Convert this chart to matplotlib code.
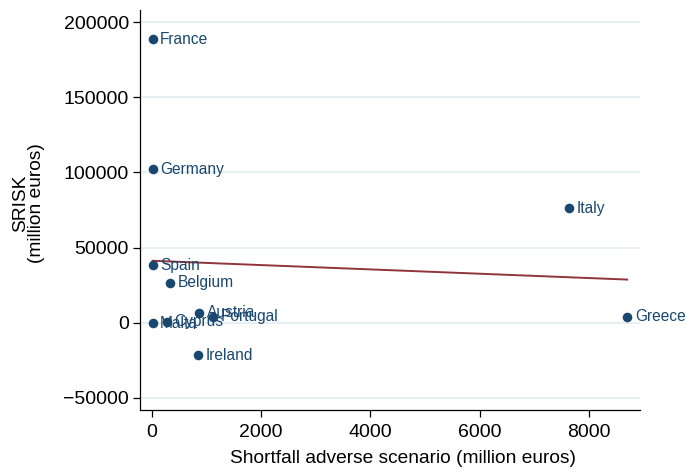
import numpy as np
import matplotlib
matplotlib.use("Agg")
import matplotlib.pyplot as plt

plt.rcParams["font.family"] = ["Liberation Sans", "DejaVu Sans"]

# Country-level shortfall vs. SRISK (million euros)
countries = ["France", "Germany", "Italy", "Spain", "Belgium", "Greece",
             "Malta", "Cyprus", "Austria", "Portugal", "Ireland"]
shortfall = [10, 10, 7640, 10, 330, 8705, 10, 270, 860, 1120, 850]
srisk = [188700, 102200, 76100, 38200, 26600, 4000, -400, 700, 6650, 4000, -21500]

x_ticks = [0, 2000, 4000, 6000, 8000]
y_ticks = [-50000, 0, 50000, 100000, 150000, 200000]

DOT = "#1a476f"
FIT = "#90353b"
GRID = "#e4eef0"

x = np.array(shortfall, dtype=float)
y = np.array(srisk, dtype=float)
slope, intercept = np.polyfit(x, y, 1)
xf = np.array([x.min(), x.max()])

fig = plt.figure(figsize=(6.86, 4.70), dpi=100)
ax = fig.add_axes([140 / 686, 60 / 470, 500 / 686, 400 / 470])

ax.scatter(x, y, s=48, color=DOT, zorder=3, linewidths=0)
ax.plot(xf, intercept + slope * xf, color=FIT, linewidth=1.4, zorder=2)

for name, xi, yi in zip(countries, x, y):
    ax.annotate(name, (xi, yi), xytext=(5.5, 0), textcoords="offset points",
                va="center", ha="left", color=DOT, fontsize=11.2, zorder=4)

ax.set_xlim(-220, 8940)
ax.set_ylim(-58000, 208000)
ax.set_xticks(x_ticks)
ax.set_yticks(y_ticks)
ax.set_yticklabels(["\u221250000", "0", "50000", "100000", "150000", "200000"])
ax.tick_params(axis="both", labelsize=14, length=5, width=0.9, direction="out",
               color="black")
ax.tick_params(axis="y", pad=3)
ax.tick_params(axis="x", pad=5)
ax.grid(axis="y", color=GRID, linewidth=1.3)
ax.set_axisbelow(True)

for side in ["top", "right"]:
    ax.spines[side].set_visible(False)
for side in ["left", "bottom"]:
    ax.spines[side].set_linewidth(0.9)

ax.set_xlabel("Shortfall adverse scenario (million euros)", fontsize=13.8)
ax.xaxis.set_label_coords(0.526, -0.1)
ax.set_ylabel("SRISK\n(million euros)", fontsize=13.8, linespacing=0.95)
ax.yaxis.set_label_coords(-0.19, 0.5175)

fig.savefig("out.png", dpi=100, facecolor="white")
